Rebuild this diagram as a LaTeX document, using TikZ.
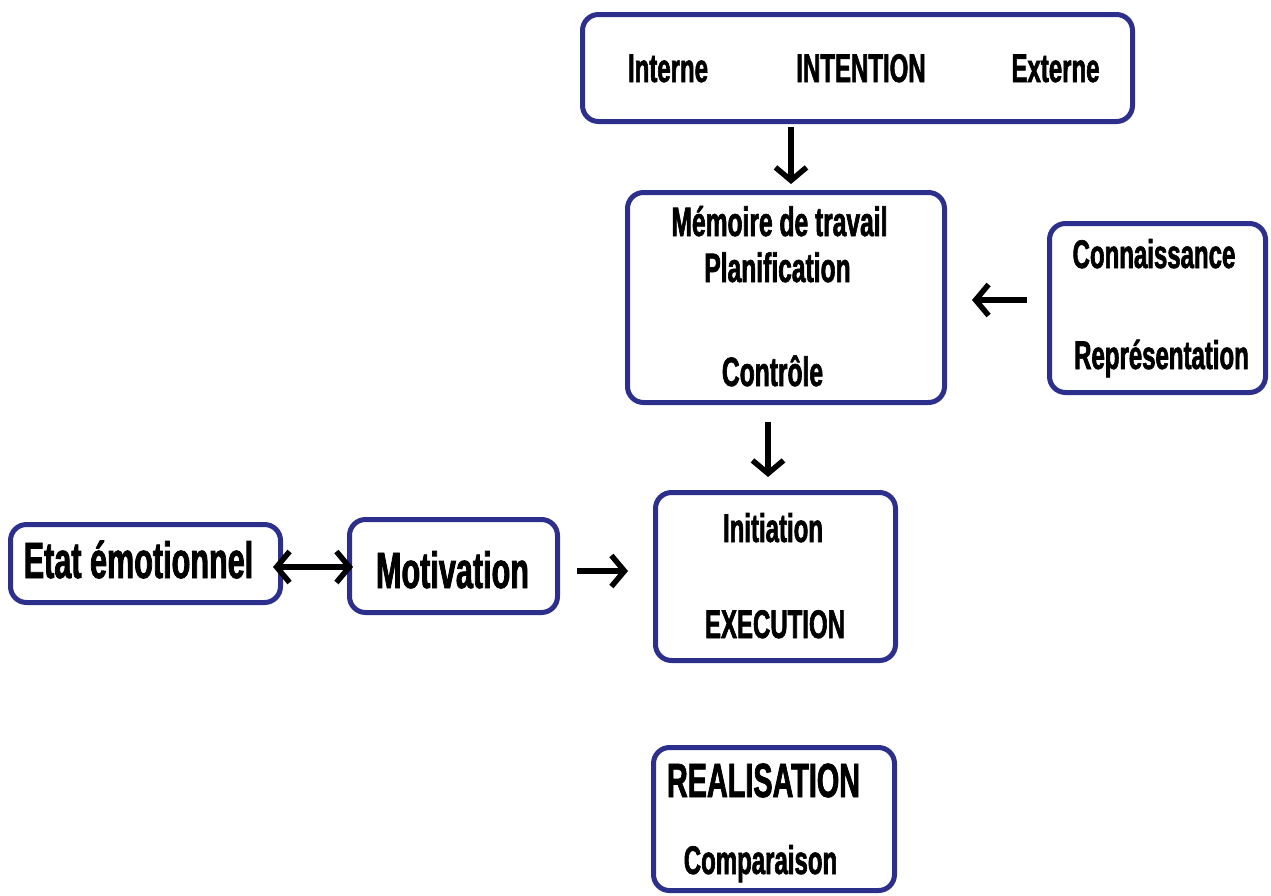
\documentclass[tikz,border=0pt]{standalone}
\usepackage{fontspec}
\newfontfamily\cf[FakeStretch=0.6,FakeBold=1.5]{Liberation Sans}
\usetikzlibrary{arrows.meta,calc}
\definecolor{boxblue}{RGB}{44,48,140}
\tikzset{
  box/.style={draw=boxblue, line width=5pt, rounded corners=16pt, inner sep=0pt},
  lbl/.style={anchor=base, inner sep=0pt, text=black, font=\cf\bfseries\fontsize{#1}{#1}\selectfont},
  arr/.style={line width=5.5pt, -{Straight Barb[length=13pt,width=31pt]}},
  darr/.style={line width=5.5pt, {Straight Barb[length=13pt,width=31pt]}-{Straight Barb[length=13pt,width=31pt]}}
}
\begin{document}
\begin{tikzpicture}[x=1pt,y=-1pt]
\useasboundingbox (0,0) rectangle (1271,895);
% boxes
\node[box, minimum width=550pt, minimum height=107pt] (intent) at (857.5,68) {};
\node[box, minimum width=317pt, minimum height=210pt] (mem) at (786,297.5) {};
\node[box, minimum width=216pt, minimum height=169pt] (conn) at (1157.5,308) {};
\node[box, minimum width=240pt, minimum height=168pt] (exec) at (775.5,576.5) {};
\node[box, minimum width=270pt, minimum height=78pt] (etat) at (145.5,563.5) {};
\node[box, minimum width=208pt, minimum height=93pt] (motiv) at (453.5,566) {};
\node[box, minimum width=241pt, minimum height=143pt] (real) at (774,819) {};
% texts
\node[lbl=40] (t1) at (668,82) {Interne};
\node[lbl=40] (t2) at (861,82) {INTENTION};
\node[lbl=40] (t3) at (1055.5,82) {Externe};
\node[lbl=41] (t4) at (779.5,236) {Mémoire de travail};
\node[lbl=41] (t5) at (777.5,282) {Planification};
\node[lbl=41] (t6) at (772.5,386) {Contrôle};
\node[lbl=40] (t7) at (1154,268) {Connaissance};
\node[lbl=40] (t8) at (1161.5,369) {Représentation};
\node[lbl=40] (t9) at (773,542) {Initiation};
\node[lbl=40] (t10) at (775,638) {EXECUTION};
\node[lbl=51] (t11) at (138.5,578) {Etat émotionnel};
\node[lbl=51] (t12) at (452.5,588) {Motivation};
\node[lbl=48] (t13) at (763.5,797) {REALISATION};
\node[lbl=40] (t14) at (760.5,874) {Comparaison};
% arrows
\draw[arr, shorten <=3pt, shorten >=6pt] ([xshift=5pt]mem.north |- intent.south) -- ([xshift=5pt]mem.north);
\draw[arr, shorten <=17pt, shorten >=13pt] ([xshift=-18pt]mem.south) -- ([xshift=-18pt]mem.south |- exec.north);
\draw[arr, shorten <=20pt, shorten >=25pt] ([yshift=8pt]conn.west) -- ([yshift=8pt]conn.west -| mem.east);
\draw[darr, shorten <=-10pt, shorten >=-6pt] ([yshift=-3.5pt]etat.east) -- ([yshift=-3.5pt]etat.east -| motiv.west);
\draw[arr, shorten <=17pt, shorten >=25pt] ([yshift=-5pt]motiv.east) -- ([yshift=-5pt]motiv.east -| exec.west);
\end{tikzpicture}
\end{document}
